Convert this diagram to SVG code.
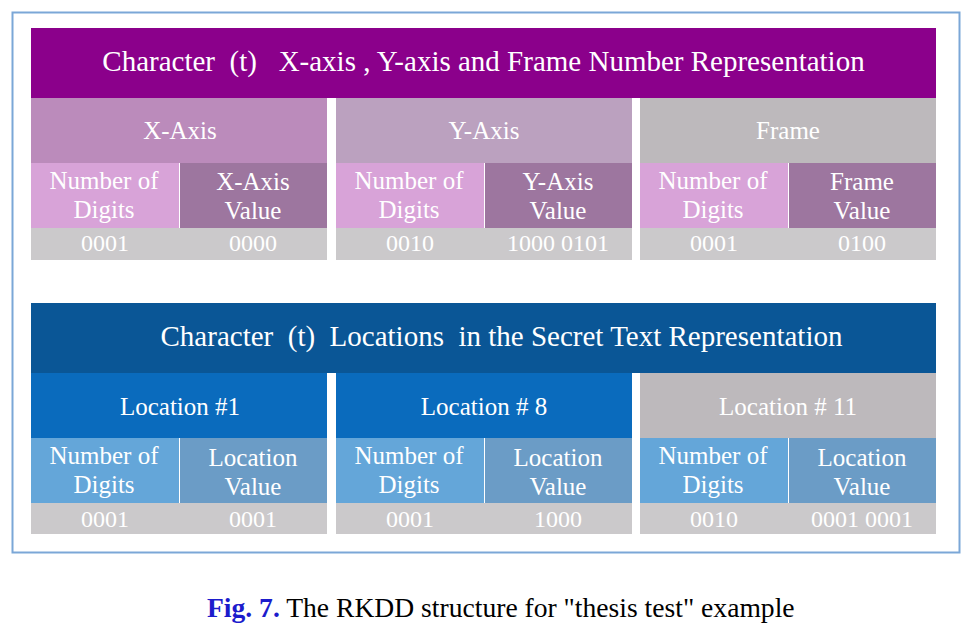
<svg xmlns="http://www.w3.org/2000/svg" width="980" height="628" viewBox="0 0 980 628" font-family="'Liberation Serif', 'Times New Roman', serif">
<style>
text{fill:#ffffff;text-anchor:middle}
.t{font-size:29px}
.h{font-size:25px}
.c{font-size:25px}
.v{font-size:24px}
.cap{font-size:27.6px;fill:#000;text-anchor:start}
.pban{fill:#8b008b}
.bban{fill:#0a5696}
.nd1{fill:#d8a3d8}
.vv1{fill:#9d769f}
.nd2{fill:#64a6d9}
.vv2{fill:#6b9cc6}
.val{fill:#cbc9cb}
.gray{fill:#bdb9bc}
</style>
<rect x="12.5" y="12.5" width="947" height="540" fill="#fff" stroke="#7ba7d7" stroke-width="2"/>
<g id="top-banner">
<rect class="pban" x="31" y="28" width="905" height="70"/>
<text class="t" x="483.5" y="71" xml:space="preserve">Character  (t)   X-axis , Y-axis and Frame Number Representation</text>
</g>
<g id="x-axis">
<rect x="31" y="98" width="296" height="65" fill="#bb8bbb"/>
<text class="h" x="180" y="139">X-Axis</text>
<rect class="nd1" x="31" y="163" width="148" height="65"/>
<rect class="vv1" x="180" y="163" width="147" height="65"/>
<text class="c" x="104" y="189">Number of</text>
<text class="c" x="104" y="218">Digits</text>
<text class="c" x="253" y="190">X-Axis</text>
<text class="c" x="253" y="219">Value</text>
<rect class="val" x="31" y="228" width="296" height="32"/>
<text class="v" x="105" y="251">0001</text>
<text class="v" x="253" y="251">0000</text>
</g>
<g id="y-axis">
<rect x="336" y="98" width="296" height="65" fill="#bba1bf"/>
<text class="h" x="484" y="139">Y-Axis</text>
<rect class="nd1" x="336" y="163" width="148" height="65"/>
<rect class="vv1" x="485" y="163" width="147" height="65"/>
<text class="c" x="409" y="189">Number of</text>
<text class="c" x="409" y="218">Digits</text>
<text class="c" x="558" y="190">Y-Axis</text>
<text class="c" x="558" y="219">Value</text>
<rect class="val" x="336" y="228" width="296" height="32"/>
<text class="v" x="410" y="251">0010</text>
<text class="v" x="558" y="251">1000 0101</text>
</g>
<g id="frame">
<rect class="gray" x="640" y="98" width="296" height="65"/>
<text class="h" x="788" y="139">Frame</text>
<rect class="nd1" x="640" y="163" width="148" height="65"/>
<rect class="vv1" x="789" y="163" width="147" height="65"/>
<text class="c" x="713" y="189">Number of</text>
<text class="c" x="713" y="218">Digits</text>
<text class="c" x="862" y="190">Frame</text>
<text class="c" x="862" y="219">Value</text>
<rect class="val" x="640" y="228" width="296" height="32"/>
<text class="v" x="714" y="251">0001</text>
<text class="v" x="862" y="251">0100</text>
</g>
<g id="bottom-banner">
<rect class="bban" x="31" y="303" width="905" height="70"/>
<text class="t" x="501.5" y="346" xml:space="preserve">Character  (t)  Locations  in the Secret Text Representation</text>
</g>
<g id="location-1">
<rect x="31" y="373" width="296" height="65" fill="#0a6bbd"/>
<text class="h" x="180" y="415">Location #1</text>
<rect class="nd2" x="31" y="438" width="148" height="65"/>
<rect class="vv2" x="180" y="438" width="147" height="65"/>
<text class="c" x="104" y="464">Number of</text>
<text class="c" x="104" y="493">Digits</text>
<text class="c" x="253" y="466">Location</text>
<text class="c" x="253" y="495">Value</text>
<rect class="val" x="31" y="503" width="296" height="31"/>
<text class="v" x="105" y="527">0001</text>
<text class="v" x="253" y="527">0001</text>
</g>
<g id="location-8">
<rect x="336" y="373" width="296" height="65" fill="#0a6bbd"/>
<text class="h" x="484" y="415">Location # 8</text>
<rect class="nd2" x="336" y="438" width="148" height="65"/>
<rect class="vv2" x="485" y="438" width="147" height="65"/>
<text class="c" x="409" y="464">Number of</text>
<text class="c" x="409" y="493">Digits</text>
<text class="c" x="558" y="466">Location</text>
<text class="c" x="558" y="495">Value</text>
<rect class="val" x="336" y="503" width="296" height="31"/>
<text class="v" x="410" y="527">0001</text>
<text class="v" x="558" y="527">1000</text>
</g>
<g id="location-11">
<rect class="gray" x="640" y="373" width="296" height="65"/>
<text class="h" x="788" y="415">Location # 11</text>
<rect class="nd2" x="640" y="438" width="148" height="65"/>
<rect class="vv2" x="789" y="438" width="147" height="65"/>
<text class="c" x="713" y="464">Number of</text>
<text class="c" x="713" y="493">Digits</text>
<text class="c" x="862" y="466">Location</text>
<text class="c" x="862" y="495">Value</text>
<rect class="val" x="640" y="503" width="296" height="31"/>
<text class="v" x="714" y="527">0010</text>
<text class="v" x="862" y="527">0001 0001</text>
</g>
<g id="connectors"></g>
<text class="cap" x="207" y="617"><tspan fill="#1c1ccc" font-weight="bold">Fig. 7.</tspan> The RKDD structure for "thesis test" example</text>
</svg>
